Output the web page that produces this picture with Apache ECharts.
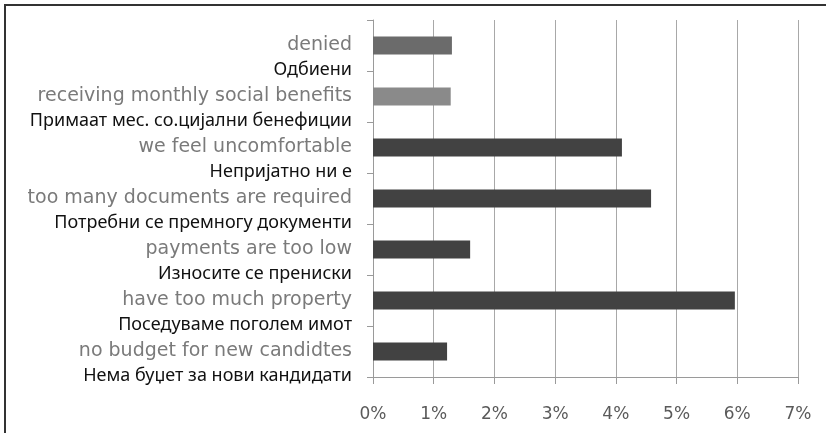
<!DOCTYPE html>
<html>
<head>
<meta charset="utf-8">
<style>
  html, body { margin: 0; padding: 0; background: #ffffff; }
  #chart { width: 826px; height: 433px; }
</style>
<script src="https://cdn.jsdelivr.net/npm/echarts@6/dist/echarts.min.js"></script>
</head>
<body>
<div id="chart"></div>
<script>
// Reasons given for not receiving social assistance (English / Macedonian)
const reasonsEn = [
  'denied',
  'receiving monthly social benefits',
  'we feel uncomfortable',
  'too many documents are required',
  'payments are too low',
  'have too much property',
  'no budget for new candidtes'
];
const reasonsMk = [
  'Одбиени',
  'Примаат мес. со.цијални бенефиции',
  'Непријатно ни е',
  'Потребни се премногу документи',
  'Износите се прениски',
  'Поседуваме поголем имот',
  'Нема буџет за нови кандидати'
];
// Share of respondents, in percent
const shares = [1.3, 1.28, 4.1, 4.58, 1.6, 5.96, 1.22];
// Axis ticks (percent)
const tickMin = 0;
const tickMax = 7;
const tickStep = 1;

const barColors = ['#6b6b6b', '#8a8a8a', '#424242', '#424242', '#424242', '#424242', '#424242'];

const chart = echarts.init(document.getElementById('chart'), null, { renderer: 'canvas' });

chart.setOption({
  backgroundColor: '#ffffff',
  animation: false,
  grid: { left: 373, right: 28, top: 20, bottom: 56, containLabel: false },
  xAxis: {
    type: 'value',
    min: tickMin,
    max: tickMax,
    interval: tickStep,
    axisLine: { show: true, lineStyle: { color: '#9a9a9a', width: 1 } },
    axisTick: { show: true, length: 7, lineStyle: { color: '#9a9a9a' } },
    splitLine: { show: true, lineStyle: { color: '#a8a8a8', width: 1 } },
    axisLabel: {
      margin: 29,
      color: '#5a5a5a',
      fontFamily: 'DejaVu Sans',
      fontSize: 17,
      formatter: v => v + '%'
    }
  },
  yAxis: {
    type: 'category',
    inverse: true,
    data: reasonsEn,
    axisLine: { show: true, lineStyle: { color: '#9a9a9a', width: 1 } },
    axisTick: { show: true, length: 6, lineStyle: { color: '#9a9a9a' } },
    splitLine: { show: false },
    axisLabel: {
      margin: 21,
      verticalAlign: 'middle',
      align: 'right',
      padding: [24, 0, 0, 0],
      formatter: (val, idx) => '{en|' + val + '}\n{mk|' + reasonsMk[idx] + '}',
      rich: {
        en: {
          fontFamily: 'DejaVu Sans',
          fontSize: 19,
          lineHeight: 24,
          color: '#7a7a7a',
          align: 'right'
        },
        mk: {
          fontFamily: 'Noto Sans',
          fontSize: 18,
          lineHeight: 24,
          color: '#111111',
          align: 'right'
        }
      }
    }
  },
  series: [{
    type: 'bar',
    barWidth: 18,
    data: shares.map((v, i) => ({ value: v, itemStyle: { color: barColors[i] } }))
  }],
  graphic: [{
    type: 'rect',
    shape: { x: 5, y: 5, width: 840, height: 450 },
    style: { fill: null, stroke: '#333333', lineWidth: 2 },
    silent: true,
    z: 100
  }]
});
</script>
</body>
</html>
